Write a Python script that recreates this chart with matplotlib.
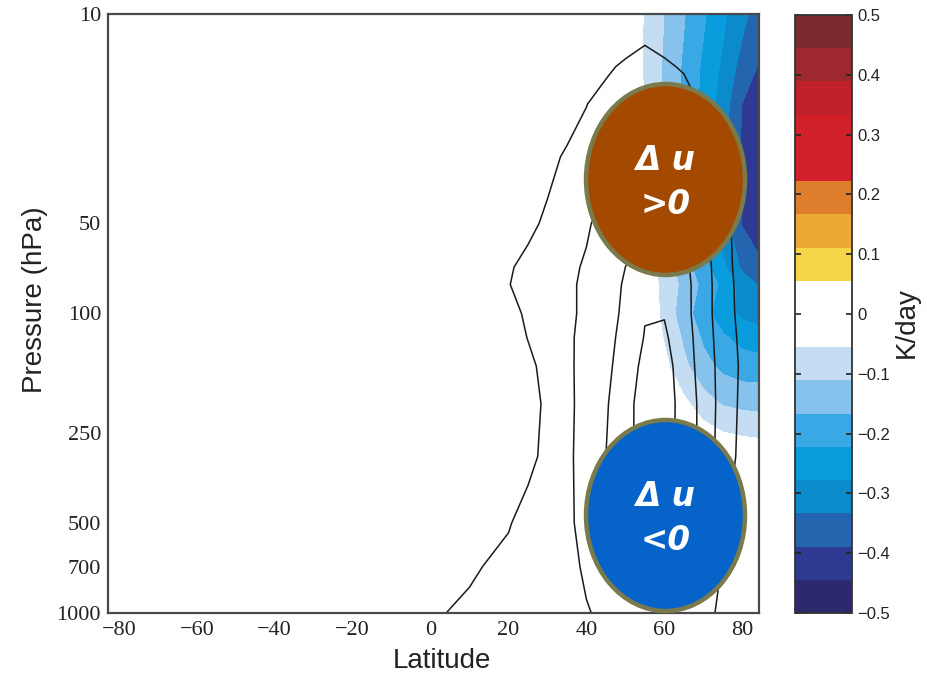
import numpy as np
import matplotlib
matplotlib.use("Agg")
import matplotlib.pyplot as plt
from matplotlib.patches import Ellipse
from matplotlib.ticker import NullLocator

# ---------------- data ----------------
# zonal wind change (black contours), rows = du_pres, cols = du_lat
du_lat = [-85, 0, 10, 20, 25, 30, 35, 40, 45, 50, 55, 60, 65, 70, 75, 80, 85]
du_pres = [10, 15, 20, 30, 50, 70, 80, 100, 120, 150, 200, 300, 500, 700, 1000]
du_rows = [
    [0, 0.00, 0.00, 0.00, 0.00, 0.00, 0.00, 0.05, 0.20, 0.30, 0.40, 0.40, 0.38, 0.35, 0.30, 0.25, 0.20],
    [0, 0.00, 0.00, 0.00, 0.05, 0.15, 0.30, 0.55, 0.85, 1.15, 1.50, 1.15, 0.90, 0.75, 0.60, 0.50, 0.45],
    [0, 0.00, 0.00, 0.10, 0.20, 0.40, 0.70, 0.98, 1.35, 1.60, 1.85, 1.90, 1.50, 0.85, 0.65, 0.55, 0.50],
    [0, 0.00, 0.05, 0.30, 0.50, 0.80, 1.10, 1.40, 1.65, 1.90, 2.25, 2.50, 2.30, 1.60, 0.90, 0.70, 0.60],
    [0, 0.02, 0.15, 0.50, 0.80, 1.15, 1.50, 1.90, 2.30, 2.60, 3.00, 3.30, 2.90, 2.20, 1.15, 0.80, 0.70],
    [0, 0.10, 0.45, 0.90, 1.25, 1.50, 1.80, 2.10, 2.50, 3.00, 3.60, 3.75, 3.20, 2.50, 1.30, 0.70, 0.60],
    [0, 0.12, 0.50, 0.97, 1.30, 1.55, 1.85, 2.15, 2.60, 3.10, 3.70, 3.90, 3.30, 2.50, 1.40, 0.70, 0.60],
    [0, 0.12, 0.45, 0.80, 1.10, 1.45, 1.85, 2.15, 2.60, 3.20, 3.95, 3.95, 3.30, 2.50, 1.40, 0.75, 0.60],
    [0, 0.12, 0.40, 0.70, 1.02, 1.35, 1.85, 2.25, 2.70, 3.30, 4.05, 4.15, 3.40, 2.55, 1.50, 0.80, 0.65],
    [0, 0.12, 0.30, 0.55, 0.85, 1.20, 1.80, 2.35, 2.80, 3.40, 4.30, 4.40, 3.50, 2.60, 1.60, 0.85, 0.70],
    [0, 0.15, 0.30, 0.50, 0.80, 1.10, 1.75, 2.40, 2.90, 3.65, 4.45, 4.50, 3.60, 2.70, 1.60, 0.80, 0.70],
    [0, 0.20, 0.40, 0.60, 0.85, 1.15, 1.80, 2.40, 3.00, 3.70, 4.40, 4.45, 3.60, 2.70, 1.50, 0.75, 0.65],
    [0, 0.40, 0.70, 0.95, 1.25, 1.50, 1.85, 2.25, 2.85, 3.40, 4.05, 3.95, 3.10, 1.90, 1.10, 0.70, 0.60],
    [0, 0.70, 0.90, 1.20, 1.35, 1.55, 1.80, 2.10, 2.50, 2.95, 3.10, 2.80, 2.20, 1.60, 0.95, 0.60, 0.50],
    [0, 0.90, 1.15, 1.35, 1.45, 1.60, 1.75, 1.95, 2.15, 2.30, 2.10, 1.85, 1.55, 1.15, 0.90, 0.60, 0.50],
]
du_levels = [1, 2, 3, 4]

# heating rate in K/day (shading), rows = heat_pres, cols = heat_lat
heat_lat = [45, 50, 55, 60, 65, 70, 75, 80, 85]
heat_pres = [10, 15, 20, 30, 50, 70, 80, 100, 120, 150, 175, 200, 225, 250, 275, 300]
heat_rows = [
    [0, -0.008, -0.060, -0.112, -0.163, -0.215, -0.267, -0.318, -0.370],
    [0, -0.007, -0.063, -0.119, -0.175, -0.232, -0.288, -0.355, -0.400],
    [0, 0.000, -0.057, -0.117, -0.178, -0.238, -0.305, -0.390, -0.420],
    [0, 0.000, -0.044, -0.109, -0.174, -0.240, -0.315, -0.400, -0.435],
    [0, 0.000, -0.031, -0.097, -0.162, -0.228, -0.305, -0.392, -0.425],
    [0, 0.000, -0.022, -0.081, -0.141, -0.201, -0.265, -0.345, -0.380],
    [0, 0.000, -0.017, -0.072, -0.127, -0.181, -0.236, -0.300, -0.345],
    [0, 0.000, 0.000, -0.075, -0.140, -0.200, -0.255, -0.290, -0.310],
    [0, 0.000, 0.000, -0.060, -0.120, -0.175, -0.215, -0.240, -0.250],
    [0, 0.000, 0.000, -0.040, -0.098, -0.148, -0.180, -0.195, -0.200],
    [0, 0.000, 0.000, -0.010, -0.070, -0.115, -0.145, -0.158, -0.160],
    [0, 0.000, 0.000, 0.000, -0.040, -0.090, -0.115, -0.123, -0.125],
    [0, 0.000, 0.000, 0.000, -0.010, -0.060, -0.085, -0.095, -0.100],
    [0, 0.000, 0.000, 0.000, 0.000, -0.020, -0.054, -0.062, -0.065],
    [0, 0.000, 0.000, 0.000, 0.000, -0.010, -0.030, -0.040, -0.045],
    [0, 0.000, 0.000, 0.000, 0.000, 0.000, -0.010, -0.020, -0.020],
]
heat_levels = np.linspace(-0.5, 0.5, 19)
heat_colors = [
    "#2c2a6c", "#2e3a92", "#2365ae", "#0b8bcc", "#099ddd", "#3aa8e4",
    "#86c2ec", "#c4ddf2", "#ffffff", "#ffffff", "#f7d548", "#eaa934",
    "#de7d2c", "#d2202a", "#d2202a", "#c0222b", "#9e2830", "#7b2a2d",
]
cbar_ticks = [-0.5, -0.4, -0.3, -0.2, -0.1, 0, 0.1, 0.2, 0.3, 0.4, 0.5]
cbar_labels = ["\u22120.5", "\u22120.4", "\u22120.3", "\u22120.2", "\u22120.1",
               "0", "0.1", "0.2", "0.3", "0.4", "0.5"]
y_ticks = [10, 50, 100, 250, 500, 700, 1000]
x_ticks = [-80, -60, -40, -20, 0, 20, 40, 60, 80]

du = np.array(du_rows)
heat = np.array(heat_rows)

# ---------------- figure ----------------
W, H = 928, 676
fig = plt.figure(figsize=(W / 100, H / 100), dpi=100)


def px_box(x0, y0, x1, y1):
    # pixel box (top-left origin) -> figure fraction rect
    return [x0 / W, 1 - y1 / H, (x1 - x0) / W, (y1 - y0) / H]


ax = fig.add_axes(px_box(108, 14, 759, 613))
cf = ax.contourf(heat_lat, heat_pres, heat, levels=heat_levels, colors=heat_colors)
ax.contour(du_lat, du_pres, du, levels=du_levels, colors="#1a1a1a", linewidths=1.1)

ax.set_yscale("log")
ax.set_ylim(1000, 10)
ax.set_xlim(-82.8, 84.3)
ax.set_yticks(y_ticks)
ax.set_yticklabels([str(v) for v in y_ticks])
ax.yaxis.set_minor_locator(NullLocator())
ax.set_xticks(x_ticks)
ax.set_xticklabels([str(v).replace("-", "\u2212") for v in x_ticks])
ax.tick_params(length=0, labelsize=16, colors="#222222")
ax.tick_params(axis="y", pad=5)
ax.tick_params(axis="x", pad=6)
for lab in ax.get_xticklabels() + ax.get_yticklabels():
    lab.set_fontfamily("Liberation Serif")
for sp in ax.spines.values():
    sp.set_color("#4a4a4a")
    sp.set_linewidth(1.6)

fig.text(35 / W, 1 - 300 / H, "Pressure (hPa)", rotation=90, ha="center",
         va="center", fontsize=20, family="Liberation Sans", color="#222222")
fig.text(442 / W, 1 - 661 / H, "Latitude", ha="center", va="center",
         fontsize=20, family="Liberation Sans", color="#222222")

# colorbar
cax = fig.add_axes(px_box(795, 15, 852, 613))
cb = fig.colorbar(cf, cax=cax, ticks=cbar_ticks)
cb.set_ticklabels(cbar_labels)
cb.outline.set_edgecolor("#333333")
cb.outline.set_linewidth(1.3)
cax.tick_params(direction="in", length=4, width=1.2, left=True, right=True,
                labelsize=12, colors="#222222", pad=4)
for lab in cax.get_yticklabels():
    lab.set_fontfamily("Liberation Sans")
fig.text(907 / W, 1 - 323 / H, "K/day", rotation=90, ha="center", va="center",
         fontsize=20, family="Liberation Sans", color="#222222")

# annotation bubbles
bubbles = [
    (665.5, 179.5, "#a34a00", "\u0394 u\n>0"),
    (665.5, 515.5, "#0563c9", "\u0394 u\n<0"),
]
for cx, cy, fill, label in bubbles:
    e = Ellipse((cx / W, 1 - cy / H), width=159 / W, height=191 / H,
                transform=fig.transFigure, facecolor=fill,
                edgecolor="#7a7a4c", linewidth=3.2, zorder=10)
    fig.add_artist(e)
    fig.text(cx / W, 1 - (cy + 3) / H, label, ha="center", va="center",
             fontsize=23.5, fontweight="bold", style="italic",
             family="DejaVu Sans", color="white", linespacing=1.42, zorder=11)

plt.savefig("out.png", dpi=100)
